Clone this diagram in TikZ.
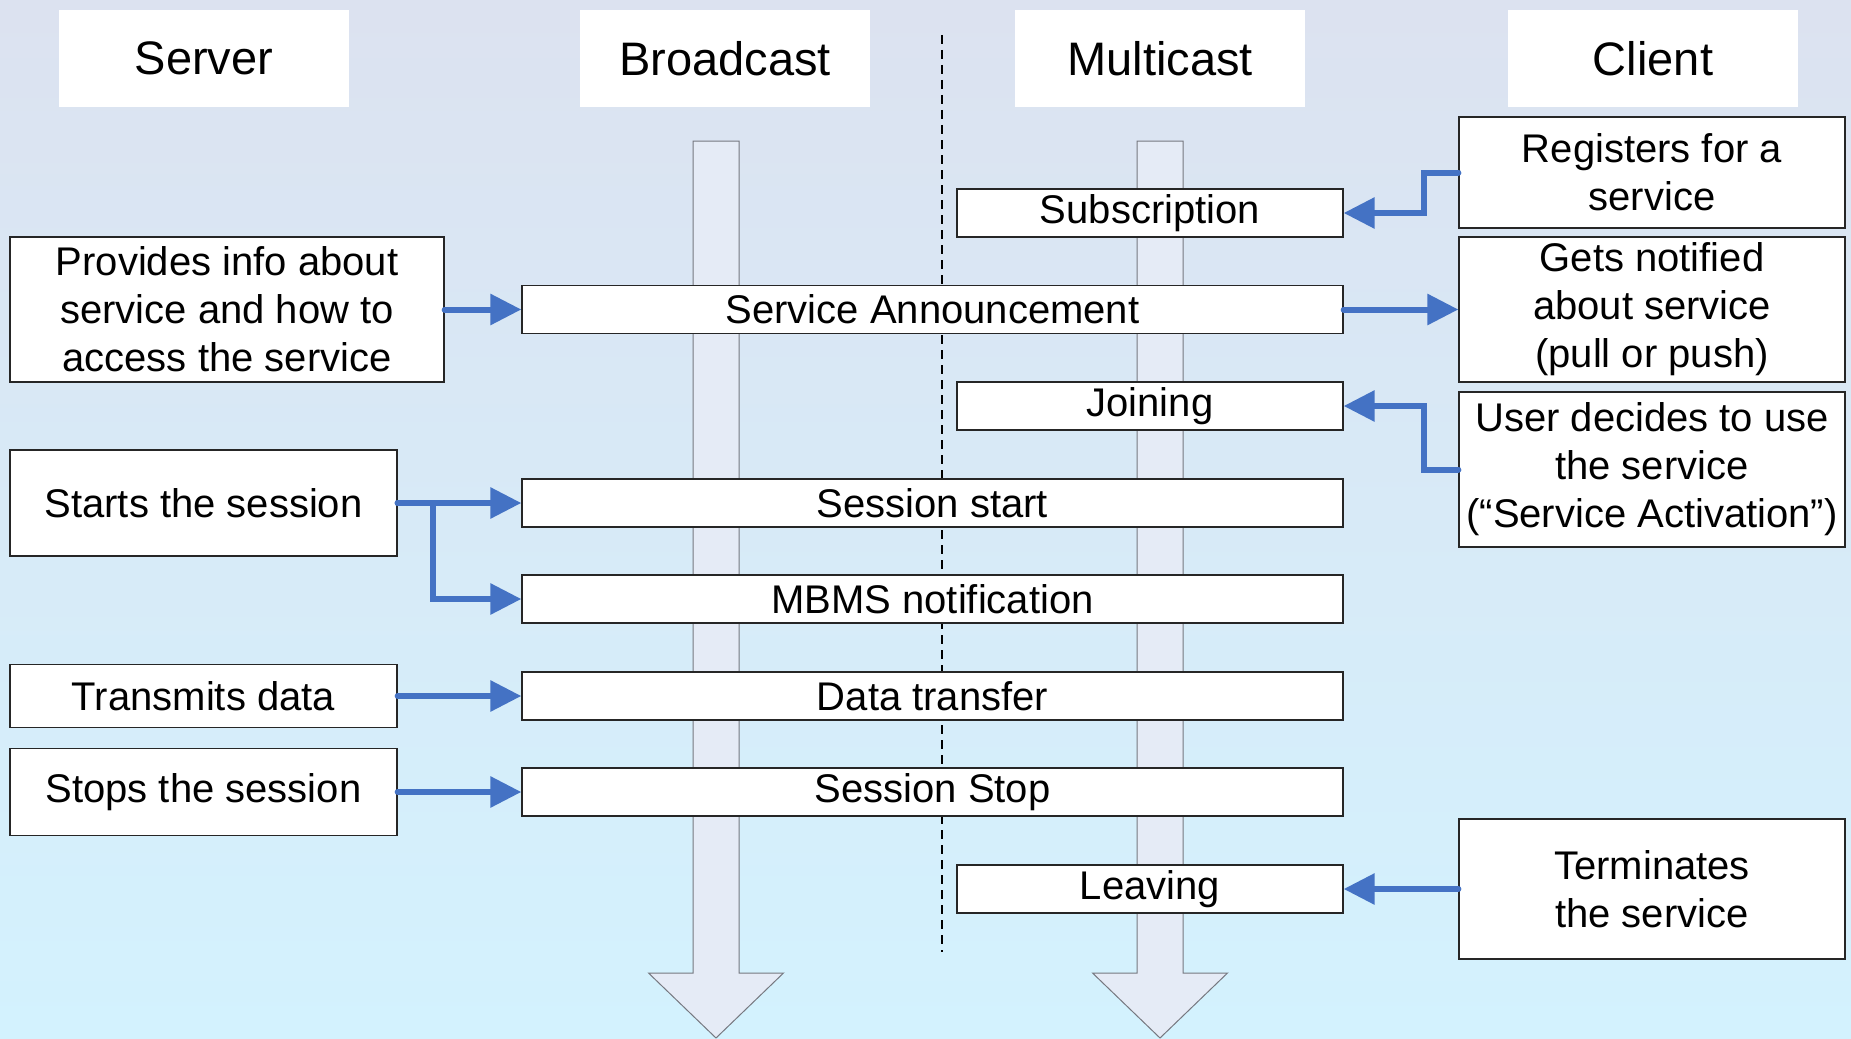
\documentclass[tikz,border=0pt]{standalone}
\usepackage{fontspec}
\setmainfont{Liberation Sans}
\usetikzlibrary{arrows.meta}

\definecolor{bgtop}{RGB}{220,226,240}
\definecolor{bgmid}{RGB}{218,228,243}
\definecolor{bgbot}{RGB}{211,242,254}
\definecolor{barfill}{RGB}{229,235,246}
\definecolor{bargray}{RGB}{118,120,128}
\definecolor{flowblue}{RGB}{68,114,196}

\tikzset{
  hdr/.style={fill=white, minimum width=290pt, minimum height=97pt, inner sep=0pt,
    font=\fontsize{47}{56}\selectfont},
  msg/.style={draw=black!85, line width=1.3pt, fill=white, minimum height=48pt,
    inner sep=0pt, font=\fontsize{40}{48}\selectfont},
  wide/.style={msg, minimum width=821pt},
  short/.style={msg, minimum width=386pt},
  actor/.style={draw=black!85, line width=1.3pt, fill=white, align=center,
    inner sep=0pt, font=\fontsize{40}{48}\selectfont},
  srv/.style={actor, minimum width=387pt},
  cli/.style={actor, minimum width=386pt},
  lifeline/.style={draw=bargray, line width=1pt, fill=barfill},
  flow/.style={draw=flowblue, line width=6pt, line cap=round, line join=miter,
    -{Triangle[length=31pt,width=30pt]}},
}

\begin{document}
\begin{tikzpicture}[x=1pt,y=-1pt]
  % background
  \useasboundingbox (0,0) rectangle (1851,1038);
  \shade[top color=bgtop, middle color=bgmid, bottom color=bgbot] (0,0) rectangle (1851,1038);

  % separator between broadcast and multicast
  \draw[black, line width=1.5pt, dash pattern=on 9pt off 6pt] (942,35) -- (942,952);

  % lifelines as block arrows
  \path[lifeline] (693,141) -- (739,141) -- (739,973) -- (783.5,973) -- (716,1038)
    -- (648.5,973) -- (693,973) -- cycle;
  \path[lifeline] (1137,141) -- (1183,141) -- (1183,973) -- (1227.5,973) -- (1160,1038)
    -- (1092.5,973) -- (1137,973) -- cycle;

  % column headers
  \node[hdr] (hserver) at (204,58.5) {Server};
  \node[hdr] (hbcast)  at (725,58.5) {Broadcast};
  \node[hdr] (hmcast)  at (1160,58.5) {Multicast};
  \node[hdr] (hclient) at (1653,58.5) {Client};

  % message phases
  \node[short] (sub)   at (1150,213)   {Subscription};
  \node[wide]  (sa)    at (932.5,309.5) {Service Announcement};
  \node[short] (join)  at (1150,406)   {Joining};
  \node[wide]  (sstart) at (932.5,503) {Session start};
  \node[wide]  (mbms)  at (932.5,599)  {MBMS notification};
  \node[wide]  (data)  at (932.5,696)  {Data transfer};
  \node[wide]  (sstop) at (932.5,792)  {Session Stop};
  \node[short] (leave) at (1150,889)   {Leaving};

  % server actions
  \node[actor, minimum width=434pt, minimum height=145pt] (info) at (227,309.5)
    {Provides info about\\service and how to\\access the service};
  \node[srv, minimum height=106pt] (start) at (203.5,503) {Starts the session};
  \node[srv, minimum height=63pt]  (trans) at (203.5,696) {Transmits data};
  \node[srv, minimum height=87pt]  (stop)  at (203.5,792) {Stops the session};

  % client actions
  \node[cli, minimum height=111pt] (reg)   at (1652,172.5) {Registers for a\\service};
  \node[cli, minimum height=145pt] (notif) at (1652,309.5) {Gets notified\\about service\\(pull or push)};
  \node[cli, minimum height=155pt] (user)  at (1652,469.5) {User decides to use\\the service\\(“Service Activation”)};
  \node[cli, minimum height=140pt] (term)  at (1652,889)   {Terminates\\the service};

  % flows
  \draw[flow] (info.east) -- (sa.west);
  \draw[flow] (sa.east) -- (notif.west);
  \draw[flow] (reg.west) -- ++(-34,0) |- (sub.east);
  \draw[flow] (user.west) -- ++(-34,0) |- (join.east);
  \draw[flow] (start.east) -- (sstart.west);
  \draw[flow] (start.east) -- ++(35,0) |- (mbms.west);
  \draw[flow] (trans.east) -- (data.west);
  \draw[flow] (stop.east) -- (sstop.west);
  \draw[flow] (term.west) -- (leave.east);
\end{tikzpicture}
\end{document}
